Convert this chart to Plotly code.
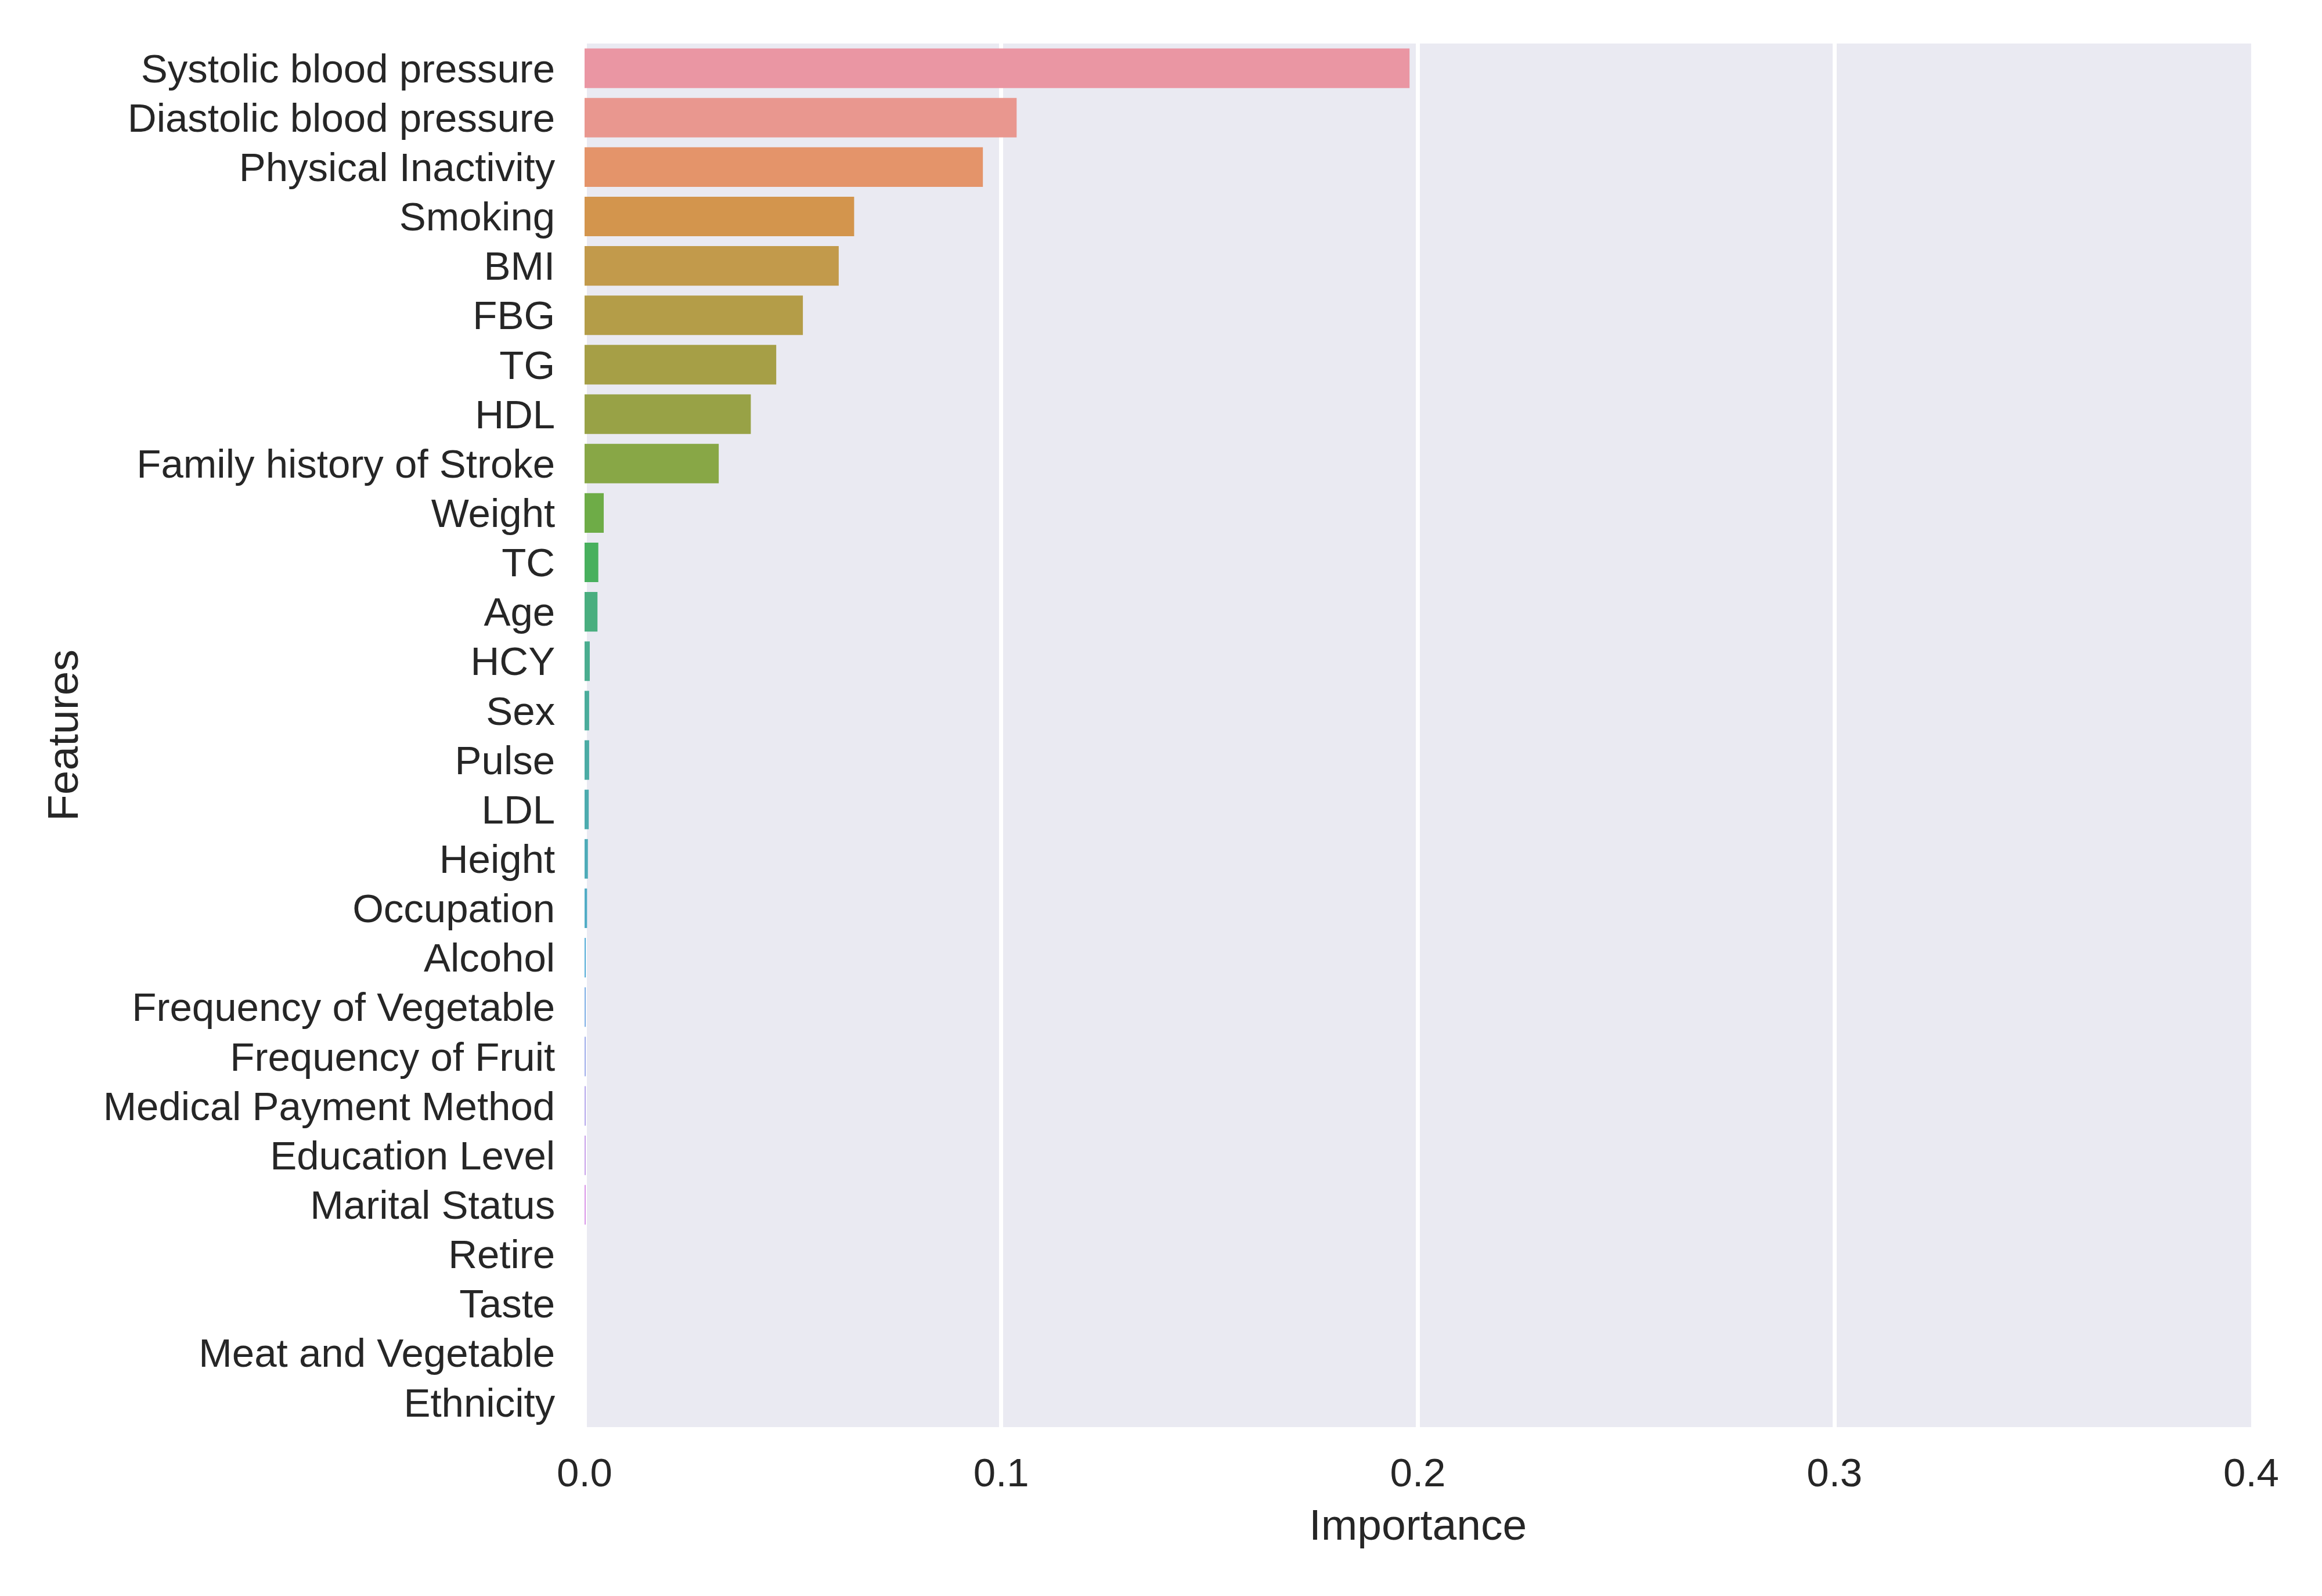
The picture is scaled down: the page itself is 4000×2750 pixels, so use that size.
import math
import colorsys
import plotly.graph_objects as go

# feature importances (top to bottom)
features = ["Systolic blood pressure", "Diastolic blood pressure", "Physical Inactivity",
            "Smoking", "BMI", "FBG", "TG", "HDL", "Family history of Stroke", "Weight",
            "TC", "Age", "HCY", "Sex", "Pulse", "LDL", "Height", "Occupation", "Alcohol",
            "Frequency of Vegetable", "Frequency of Fruit", "Medical Payment Method",
            "Education Level", "Marital Status", "Retire", "Taste", "Meat and Vegetable",
            "Ethnicity"]
importance = [0.1980, 0.1037, 0.0956, 0.0647, 0.0610, 0.0524, 0.0460, 0.0399, 0.0322, 0.0046,
              0.0033, 0.0031, 0.00125, 0.0011, 0.0011, 0.0010, 0.0008, 0.0006, 0.0003,
              0.0003, 0.0003, 0.0003, 0.00015, 0.00015, 0.0, 0.0, 0.0, 0.0]
xticks = [0.0, 0.1, 0.2, 0.3, 0.4]
xtick_labels = ["0.0", "0.1", "0.2", "0.3", "0.4"]

# seaborn categorical default: husl palette (h=.01, s=.9, l=.7) desaturated to .75
M = [[3.2406, -1.5372, -0.4986], [-0.9689, 1.8758, 0.0415], [0.0557, -0.2040, 1.0570]]


def max_chroma(L, H):
    hrad = math.radians(H)
    sinH, cosH = math.sin(hrad), math.cos(hrad)
    sub1 = (L + 16) ** 3 / 1560896.0
    sub2 = sub1 if sub1 > 0.008856 else L / 903.3
    result = float("inf")
    for m1, m2, m3 in M:
        top = (0.99915 * m1 + 1.05122 * m2 + 1.14460 * m3) * sub2
        rbottom = 0.86330 * m3 - 0.17266 * m2
        lbottom = 0.12949 * m3 - 0.38848 * m1
        bottom = (rbottom * sinH + lbottom * cosH) * sub2
        for t in (0.0, 1.0):
            C = L * (top - 1.05122 * t) / (bottom + 0.17266 * sinH * t)
            if 0.0 < C < result:
                result = C
    return result


def husl_to_rgb(h, s, l):
    C = max_chroma(l, h) / 100.0 * s
    U = C * math.cos(math.radians(h))
    V = C * math.sin(math.radians(h))
    t = (l + 16) / 116.0
    Y = t ** 3 if t ** 3 > 0.008856 else l / 903.3
    varU = U / (13 * l) + 0.19784
    varV = V / (13 * l) + 0.46834
    X = -(9 * Y * varU) / ((varU - 4) * varV - varU * varV)
    Z = (9 * Y - 15 * varV * Y - varV * X) / (3 * varV)
    out = []
    for r in M:
        c = r[0] * X + r[1] * Y + r[2] * Z
        c = 12.92 * c if c <= 0.0031308 else 1.055 * c ** (1 / 2.4) - 0.055
        out.append(min(max(c, 0.0), 1.0))
    return out


def palette(n):
    cols = []
    for i in range(n):
        h = ((i / n + 0.01) % 1) * 359
        r, g, b = husl_to_rgb(h, 0.9 * 99, 0.7 * 99)
        hh, ll, ss = colorsys.rgb_to_hls(r, g, b)
        r, g, b = colorsys.hls_to_rgb(hh, ll, ss * 0.75)
        cols.append("rgb(%d,%d,%d)" % (round(r * 255), round(g * 255), round(b * 255)))
    return cols


colors = palette(len(features))
font = "Liberation Sans, Arial, sans-serif"
ink = "#262626"

fig = go.Figure()
fig.add_trace(go.Bar(x=importance, y=features, orientation="h", width=0.8,
                     marker=dict(color=colors, line=dict(width=0)), showlegend=False))

fig.update_xaxes(range=[0, 0.4], tickvals=xticks, ticktext=xtick_labels,
                 showgrid=True, gridcolor="white", gridwidth=7,
                 zeroline=True, zerolinecolor="white", zerolinewidth=7,
                 showline=False, ticks="outside", ticklen=18, tickcolor="rgba(0,0,0,0)",
                 tickfont=dict(size=69, color=ink, family=font),
                 title=dict(text="Importance", font=dict(size=75, color=ink, family=font), standoff=25))
fig.update_yaxes(type="category", categoryorder="array", categoryarray=features,
                 range=[len(features) - 0.5, -0.5], showgrid=False, zeroline=False,
                 showline=False, ticks="outside", ticklen=36, tickcolor="rgba(0,0,0,0)",
                 tickfont=dict(size=69, color=ink, family=font),
                 title=dict(text="Features", font=dict(size=75, color=ink, family=font), standoff=18))

# page body has an 8px margin, so the figure is drawn 8px smaller
fig.update_layout(width=3992, height=2742, autosize=False,
                  margin=dict(l=999, r=122, t=67, b=291),
                  plot_bgcolor="#EAEAF2", paper_bgcolor="white",
                  font=dict(family=font, color=ink), bargap=0.2)

fig.write_html("out.html")
